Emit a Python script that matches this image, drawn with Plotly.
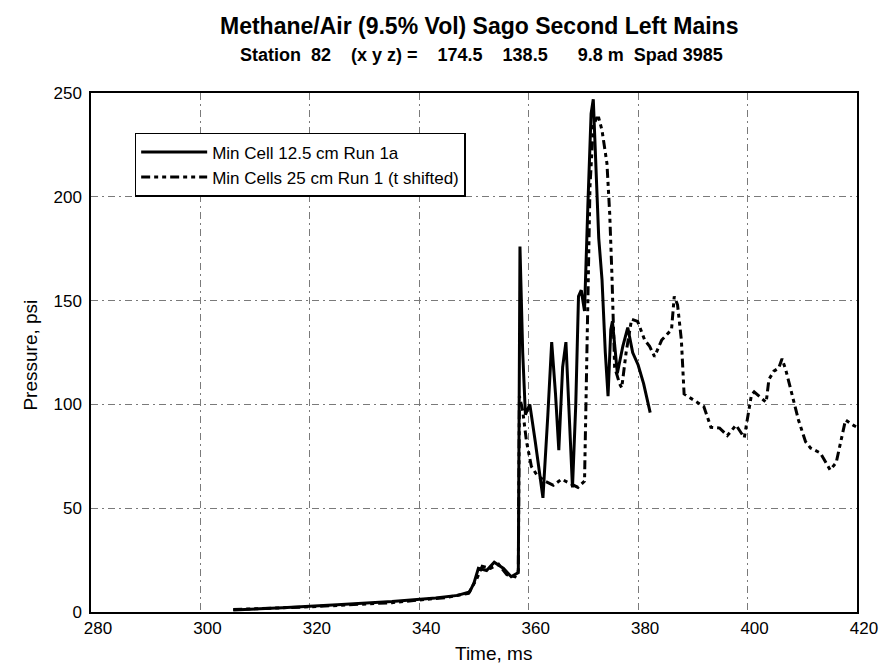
import plotly.graph_objects as go

# ---- data ----
run1a_t = [306.0, 315.0, 325.0, 335.0, 343.0, 347.0, 349.2, 350.0, 350.8, 352.3, 353.7, 355.4,
           356.8, 357.6, 358.1, 358.4, 358.9, 359.4, 360.2, 361.2, 362.6, 363.5, 364.2, 364.9,
           365.5, 366.2, 366.8, 367.4, 368.0, 368.6, 369.1, 369.6, 370.2, 370.8, 371.4, 371.8,
           372.3, 372.8, 373.4, 374.0, 374.5, 375.0, 375.3, 376.2, 377.2, 378.1, 379.0, 380.0,
           381.0, 381.5, 382.2]
run1a_p = [1.0, 2.0, 3.5, 5.0, 6.7, 8.0, 9.6, 14.0, 21.0, 20.0, 24.0, 21.0,
           17.0, 18.0, 19.0, 176.0, 125.0, 95.0, 100.0, 82.0, 55.0, 95.0, 130.0, 105.0,
           78.0, 118.0, 130.0, 95.0, 60.0, 100.0, 152.0, 155.0, 145.0, 195.0, 240.0, 247.0,
           215.0, 180.0, 160.0, 125.0, 104.0, 136.0, 140.0, 115.0, 128.0, 137.0, 125.0, 119.0,
           110.0, 104.0, 96.0]

run1_t = [306.0, 320.0, 335.0, 345.0, 349.0, 350.5, 351.5, 353.0, 354.5, 356.0, 357.5, 358.1,
          358.3, 358.9, 359.6, 360.5, 361.5, 363.0, 364.5, 366.0, 367.5, 369.0, 370.2, 370.7,
          371.2, 371.8, 372.4, 372.8, 373.4, 374.3, 374.8, 375.2, 375.7, 376.6, 377.0, 377.8,
          378.8, 379.9, 381.2, 382.1, 383.0, 384.3, 386.1, 386.6, 387.2, 387.9, 388.4, 390.2,
          392.0, 393.3, 394.9, 396.3, 397.9, 399.4, 399.9, 400.7, 401.2, 403.4, 403.9, 404.8,
          405.7, 406.3, 407.0, 408.1, 409.3, 410.6, 411.5, 413.3, 415.1, 416.2, 417.1, 417.9,
          419.3, 420.0]
run1_p = [1.2, 2.5, 4.5, 7.0, 9.0, 16.0, 22.0, 21.0, 23.0, 18.0, 17.0, 20.0,
          104.0, 97.0, 82.0, 70.0, 66.0, 63.0, 61.0, 64.0, 62.0, 60.0, 63.0, 130.0,
          205.0, 234.0, 238.0, 238.0, 232.0, 216.0, 192.0, 163.0, 118.0, 110.0, 108.0, 125.0,
          141.0, 140.0, 131.0, 128.0, 123.0, 131.0, 136.0, 152.0, 148.0, 131.0, 105.0, 102.0,
          99.0, 89.0, 88.6, 85.0, 90.0, 84.0, 92.0, 104.5, 106.0, 101.0, 112.0, 116.0,
          117.5, 122.0, 116.5, 104.5, 92.5, 82.0, 79.0, 76.6, 68.4, 72.0, 83.0, 92.5,
          90.0, 89.0]

series_names = ["Min Cell 12.5 cm Run 1a", "Min Cells 25 cm Run 1 (t shifted)"]
x_ticks = [280, 300, 320, 340, 360, 380, 400, 420]
y_ticks = [0, 50, 100, 150, 200, 250]

NB = "\u00a0"
title_text = "<b>Methane/Air (9.5% Vol) Sago Second Left Mains</b>"
subtitle_text = ("<b>Station" + NB * 2 + "82" + NB * 4 + "(x y z) =" + NB * 4 + "174.5"
                 + NB * 4 + "138.5" + NB * 6 + "9.8 m" + NB * 2 + "Spad 3985</b>")

FONT = "Liberation Sans, Arial, sans-serif"

fig = go.Figure()
fig.add_trace(go.Scatter(x=run1a_t, y=run1a_p, mode="lines", name=series_names[0],
                         line=dict(color="black", width=3)))
fig.add_trace(go.Scatter(x=run1_t, y=run1_p, mode="lines", name=series_names[1],
                         line=dict(color="black", width=3, dash="9px,4px,4px,4px,4px,4px")))

axis_common = dict(showline=True, linecolor="black", linewidth=1.5, mirror=True,
                   showgrid=True, gridcolor="#7a7a7a", gridwidth=1,
                   griddash="7px,4px,2px,4px",
                   zeroline=False, ticks="", tickfont=dict(family=FONT, size=17, color="black"))

fig.update_xaxes(range=[280, 420], tickvals=x_ticks, ticklabelshift=7, **axis_common)
fig.update_yaxes(range=[0, 250], tickvals=y_ticks, ticklabelstandoff=4, **axis_common)

fig.update_layout(
    width=890, height=671,
    margin=dict(l=91, r=26, t=93, b=59),
    paper_bgcolor="white", plot_bgcolor="white",
    font=dict(family=FONT, color="black"),
    showlegend=True,
    legend=dict(x=0.057, y=0.923, xanchor="left", yanchor="top",
                bgcolor="white", bordercolor="black", borderwidth=1.5,
                font=dict(family=FONT, size=17, color="black"),
                itemwidth=66),
    annotations=[
        dict(text=title_text, x=0.507, y=1.129, xref="paper", yref="paper",
             showarrow=False, xanchor="center", yanchor="middle",
             font=dict(family=FONT, size=23, color="black")),
        dict(text=subtitle_text, x=0.51, y=1.074, xref="paper", yref="paper",
             showarrow=False, xanchor="center", yanchor="middle",
             font=dict(family=FONT, size=18, color="black")),
        dict(text="Pressure, psi", x=-0.079, y=0.495, xref="paper", yref="paper",
             showarrow=False, xanchor="center", yanchor="middle", textangle=-90,
             font=dict(family=FONT, size=19, color="black")),
        dict(text="Time, ms", x=0.525, y=-0.08, xref="paper", yref="paper",
             showarrow=False, xanchor="center", yanchor="middle",
             font=dict(family=FONT, size=19, color="black")),
    ],
)

fig.write_html("out.html")
